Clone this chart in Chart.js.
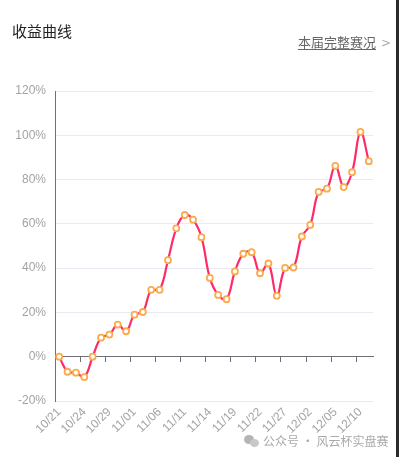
<!DOCTYPE html>
<html>
<head>
<meta charset="utf-8">
<script src="https://cdn.jsdelivr.net/npm/chart.js@4"></script>
<style>
  html, body { margin:0; padding:0; background:#fff; }
  body { width:399px; height:457px; position:relative; overflow:hidden; font-family:"Liberation Sans","Noto Sans CJK SC",sans-serif; }
  #wrap { position:absolute; left:0; top:0; width:396px; height:457px; }
  .title { position:absolute; left:12px; top:20px; font-size:15px; color:#222; font-family:"Noto Sans CJK SC",sans-serif; }
  .more { position:absolute; left:298px; top:32px; font-size:13px; color:#666; font-family:"Noto Sans CJK SC",sans-serif; }
  .more u { text-underline-offset:2px; }
  .more span { color:#aaa; margin-left:5px; font-family:"DejaVu Sans",sans-serif; font-size:12px; }
  .wm { position:absolute; left:244px; top:432px; font-size:12px; color:#aaa; white-space:nowrap; font-family:"Noto Sans CJK SC",sans-serif; }
  .ico { display:inline-block; position:relative; width:15px; height:12px; vertical-align:-1px; margin-right:4px; }
  .ico i { position:absolute; border-radius:50%; background:#b4b4b4; }
  .edge { position:absolute; right:0; top:0; width:3px; height:457px; background:#2a2a2a; }
</style>
</head>
<body>
<div id="wrap"><canvas id="c" width="396" height="457"></canvas></div>
<div class="title">收益曲线</div>
<div class="more"><u>本届完整赛况</u><span>&gt;</span></div>
<div class="wm"><span class="ico"><i style="left:0;top:0;width:10px;height:9px"></i><i style="left:6px;top:4px;width:9px;height:8px;background:#c8c8c8"></i></span>公众号 · 风云杯实盘赛</div>
<div class="edge"></div>
<script>
// trading days
const dates = ['10/21','10/22','10/23','10/24','10/25','10/28','10/29','10/30','10/31','11/01',
  '11/04','11/05','11/06','11/07','11/08','11/11','11/12','11/13','11/14','11/15',
  '11/18','11/19','11/20','11/21','11/22','11/25','11/26','11/27','11/28','11/29',
  '12/02','12/03','12/04','12/05','12/06','12/09','12/10','12/11'];
// return in %
const returns = [0, -6.8, -7.2, -9.2, 0, 8.6, 10, 14.5, 11.5, 19,
  20.2, 30.2, 30.2, 43.6, 58, 64, 61.9, 54, 35.6, 27.9,
  26, 38.5, 46.5, 47.2, 37.7, 42.1, 27.5, 40.1, 40.3, 54.3,
  59.5, 74.4, 75.9, 86.2, 76.6, 83.3, 101.5, 88.3];
const yTicks = [-20, 0, 20, 40, 60, 80, 100, 120];

const gray = '#a3a3a3', axisCol = '#6e7079';

new Chart(document.getElementById('c'), {
  type: 'line',
  data: { labels: dates, datasets: [{
    data: returns, xAxisID: 'x', yAxisID: 'y',
    borderColor: '#ff2a68', borderWidth: 2.2, tension: 0.4,
    pointRadius: 3, pointBorderWidth: 1.8, pointBorderColor: '#fbab4e', pointBackgroundColor: '#fff',
    pointHoverRadius: 3
  }]},
  options: {
    responsive: false, animation: false,
    devicePixelRatio: 1,
    layout: { padding: { top: 91, right: 23, bottom: 16, left: 0 } },
    plugins: { legend: { display: false }, tooltip: { enabled: false } },
    scales: {
      x: {
        type: 'category', position: { y: 0 }, offset: true,
        grid: { offset: true, drawOnChartArea: false, tickLength: 5,
          tickColor: ctx => (ctx.index % 3 === 0 || ctx.index === dates.length) ? axisCol : 'rgba(0,0,0,0)' },
        border: { color: axisCol, width: 1 },
        ticks: { display: false }
      },
      xl: {
        type: 'category', position: 'bottom', offset: true,
        grid: { display: false, drawTicks: false }, border: { display: false },
        afterFit: s => { s.height = 40; },
        ticks: { autoSkip: false, maxRotation: 45, minRotation: 45, padding: 4, color: gray,
          font: { size: 12, family: '"Liberation Sans", sans-serif' },
          callback: (v, i) => i % 3 === 0 ? dates[i] : '' }
      },
      y: {
        min: -20, max: 120,
        afterFit: s => { s.width = 55; },
        afterBuildTicks: s => { s.ticks = yTicks.map(v => ({ value: v })); },
        grid: { color: '#e8ebf1', drawTicks: false },
        border: { color: axisCol, width: 1 },
        ticks: { padding: 9, color: gray, font: { size: 12, family: '"Liberation Sans", sans-serif' },
          callback: v => v + '%' }
      }
    }
  }
});
</script>
</body>
</html>
